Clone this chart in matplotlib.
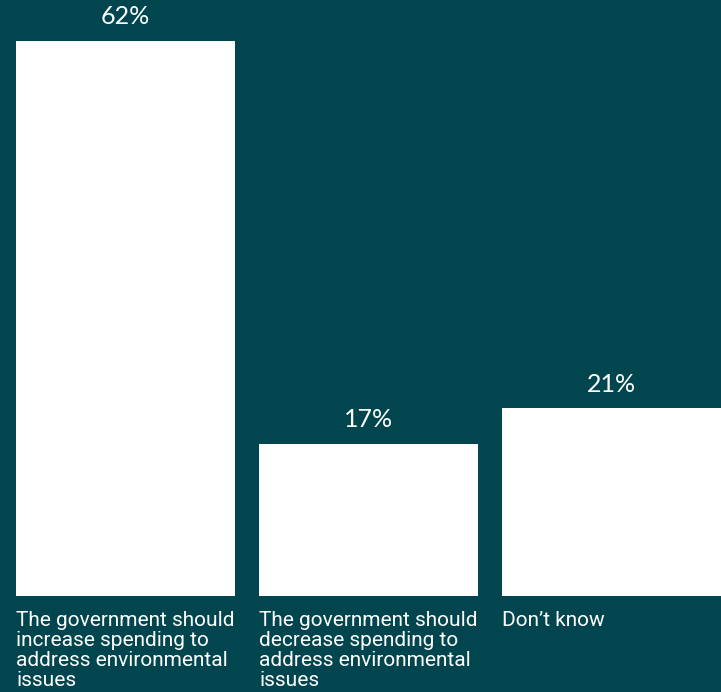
import numpy as np
import matplotlib.pyplot as plt

# Survey responses on government environmental spending
categories = [
    "The government should\nincrease spending to\naddress environmental\nissues",
    "The government should\ndecrease spending to\naddress environmental\nissues",
    "Don\u2019t know",
]
shares = [62, 17, 21]
value_labels = ["62%", "17%", "21%"]

bg = "#01464e"

fig = plt.figure(figsize=(7.21, 6.92), dpi=100, facecolor=bg)
W, H = 721, 692
# axes spans from the first bar's left edge to the right border, bar baseline at y=596px
ax = fig.add_axes([16 / W, 1 - 596 / H, 1 - 16 / W, (596 - 41) / H])
ax.set_facecolor(bg)

x = np.arange(len(shares))
bars = ax.bar(x, shares, width=0.9, color="white", linewidth=0)
ax.set_xlim(-0.45, 2.45)
ax.set_ylim(0, max(shares))

for rect, lab in zip(bars, value_labels):
    ax.annotate(lab, (rect.get_x() + rect.get_width() / 2, rect.get_height()),
                xytext=(0, 9), textcoords="offset points",
                ha="center", va="bottom", color="white", fontsize=18,
                family="Lato", annotation_clip=False)

for xi, cat in zip(x, categories):
    ax.annotate(cat, (xi - 0.45, 0), xytext=(0, -11), textcoords="offset points",
                ha="left", va="top", color="white", fontsize=15,
                family="Roboto", linespacing=1.06, annotation_clip=False)

ax.axis("off")

fig.savefig("out.png", dpi=100, facecolor=bg)
